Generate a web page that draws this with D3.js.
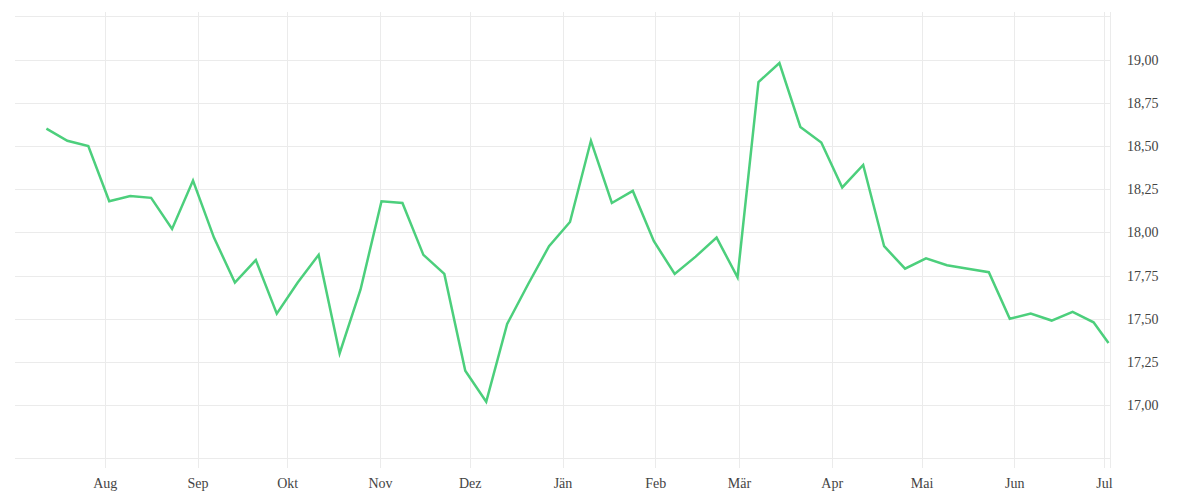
<!DOCTYPE html>
<html>
<head>
<meta charset="utf-8">
<script src="https://cdn.jsdelivr.net/npm/d3@7"></script>
<style>
  body { margin: 0; background: #fff; }
  .grid line { stroke: #ebebeb; stroke-width: 1; shape-rendering: crispEdges; }
  .grid .domain { display: none; }
  .grid text { font-family: "Liberation Serif", serif; font-size: 14px; fill: #444; }
  .line { fill: none; stroke: #4ccf7c; stroke-width: 2.5; }
</style>
</head>
<body>
<svg width="1200" height="500"></svg>
<script>
// weekly observations (midday readings)
const dates = [
  "2022-07-12", "2022-07-19", "2022-07-26", "2022-08-02", "2022-08-09", "2022-08-16",
  "2022-08-23", "2022-08-30", "2022-09-06", "2022-09-13", "2022-09-20", "2022-09-27",
  "2022-10-04", "2022-10-11", "2022-10-18", "2022-10-25", "2022-11-01", "2022-11-08",
  "2022-11-15", "2022-11-22", "2022-11-29", "2022-12-06", "2022-12-13", "2022-12-20",
  "2022-12-27", "2023-01-03", "2023-01-10", "2023-01-17", "2023-01-24", "2023-01-31",
  "2023-02-07", "2023-02-14", "2023-02-21", "2023-02-28", "2023-03-07", "2023-03-14",
  "2023-03-21", "2023-03-28", "2023-04-04", "2023-04-11", "2023-04-18", "2023-04-25",
  "2023-05-02", "2023-05-09", "2023-05-16", "2023-05-23", "2023-05-30", "2023-06-06",
  "2023-06-13", "2023-06-20", "2023-06-27", "2023-07-02"
];
const values = [
  18.60, 18.53, 18.50, 18.18, 18.21, 18.20,
  18.02, 18.30, 17.97, 17.71, 17.84, 17.53,
  17.71, 17.87, 17.30, 17.67, 18.18, 18.17,
  17.87, 17.76, 17.20, 17.02, 17.47, 17.70,
  17.92, 18.06, 18.53, 18.17, 18.24, 17.95,
  17.76, 17.86, 17.97, 17.74, 18.87, 18.98,
  18.61, 18.52, 18.26, 18.39, 17.92, 17.79,
  17.85, 17.81, 17.79, 17.77, 17.50, 17.53,
  17.49, 17.54, 17.48, 17.36
];
const monthNames = ["Jän", "Feb", "Mär", "Apr", "Mai", "Jun", "Jul", "Aug", "Sep", "Okt", "Nov", "Dez"];
const yTicks = [17.00, 17.25, 17.50, 17.75, 18.00, 18.25, 18.50, 18.75, 19.00];
const xDomain = ["2022-07-02", "2023-07-03"];
const yDomain = [16.693, 19.252];

const parse = d3.timeParse("%Y-%m-%d");
const parseNoon = d3.timeParse("%Y-%m-%d %H:%M");
const data = dates.map((d, i) => ({ date: parseNoon(d + " 12:00"), value: values[i] }));

const plotLeft = 15, plotRight = 1110, plotTop = 16, plotBottom = 458.3;
const gridTop = 12, gridBottom = 468;

const svg = d3.select("svg");

const x = d3.scaleTime()
    .domain(xDomain.map(parse))
    .range([plotLeft, plotRight]);

const y = d3.scaleLinear()
    .domain(yDomain)
    .range([plotBottom, plotTop]);

const de = d3.formatLocale({ decimal: ",", thousands: ".", grouping: [3], currency: ["", " €"] });
const fmt = de.format(".2f");

// horizontal grid + right labels
svg.append("g")
    .attr("class", "grid")
    .attr("transform", `translate(${plotRight},0)`)
    .call(d3.axisRight(y)
        .tickValues(yTicks)
        .tickSizeInner(-(plotRight - plotLeft))
        .tickSizeOuter(0)
        .tickPadding(17)
        .tickFormat(fmt));

// top / bottom edges of the plot
svg.append("g")
    .attr("class", "grid")
    .selectAll("line")
    .data(yDomain)
    .enter().append("line")
    .attr("x1", plotLeft)
    .attr("x2", plotRight)
    .attr("y1", d => y(d))
    .attr("y2", d => y(d));

// vertical grid + month labels
svg.append("g")
    .attr("class", "grid")
    .attr("transform", `translate(0,${gridBottom})`)
    .call(d3.axisBottom(x)
        .ticks(d3.timeMonth.every(1))
        .tickSizeInner(-(gridBottom - gridTop))
        .tickSizeOuter(0)
        .tickPadding(10)
        .tickFormat(d => monthNames[d.getMonth()]));

// right edge
svg.append("g")
    .attr("class", "grid")
    .append("line")
    .attr("x1", plotRight)
    .attr("x2", plotRight)
    .attr("y1", gridTop)
    .attr("y2", gridBottom);

const line = d3.line()
    .x(d => x(d.date))
    .y(d => y(d.value));

svg.append("path")
    .datum(data)
    .attr("class", "line")
    .attr("d", line);
</script>
</body>
</html>
